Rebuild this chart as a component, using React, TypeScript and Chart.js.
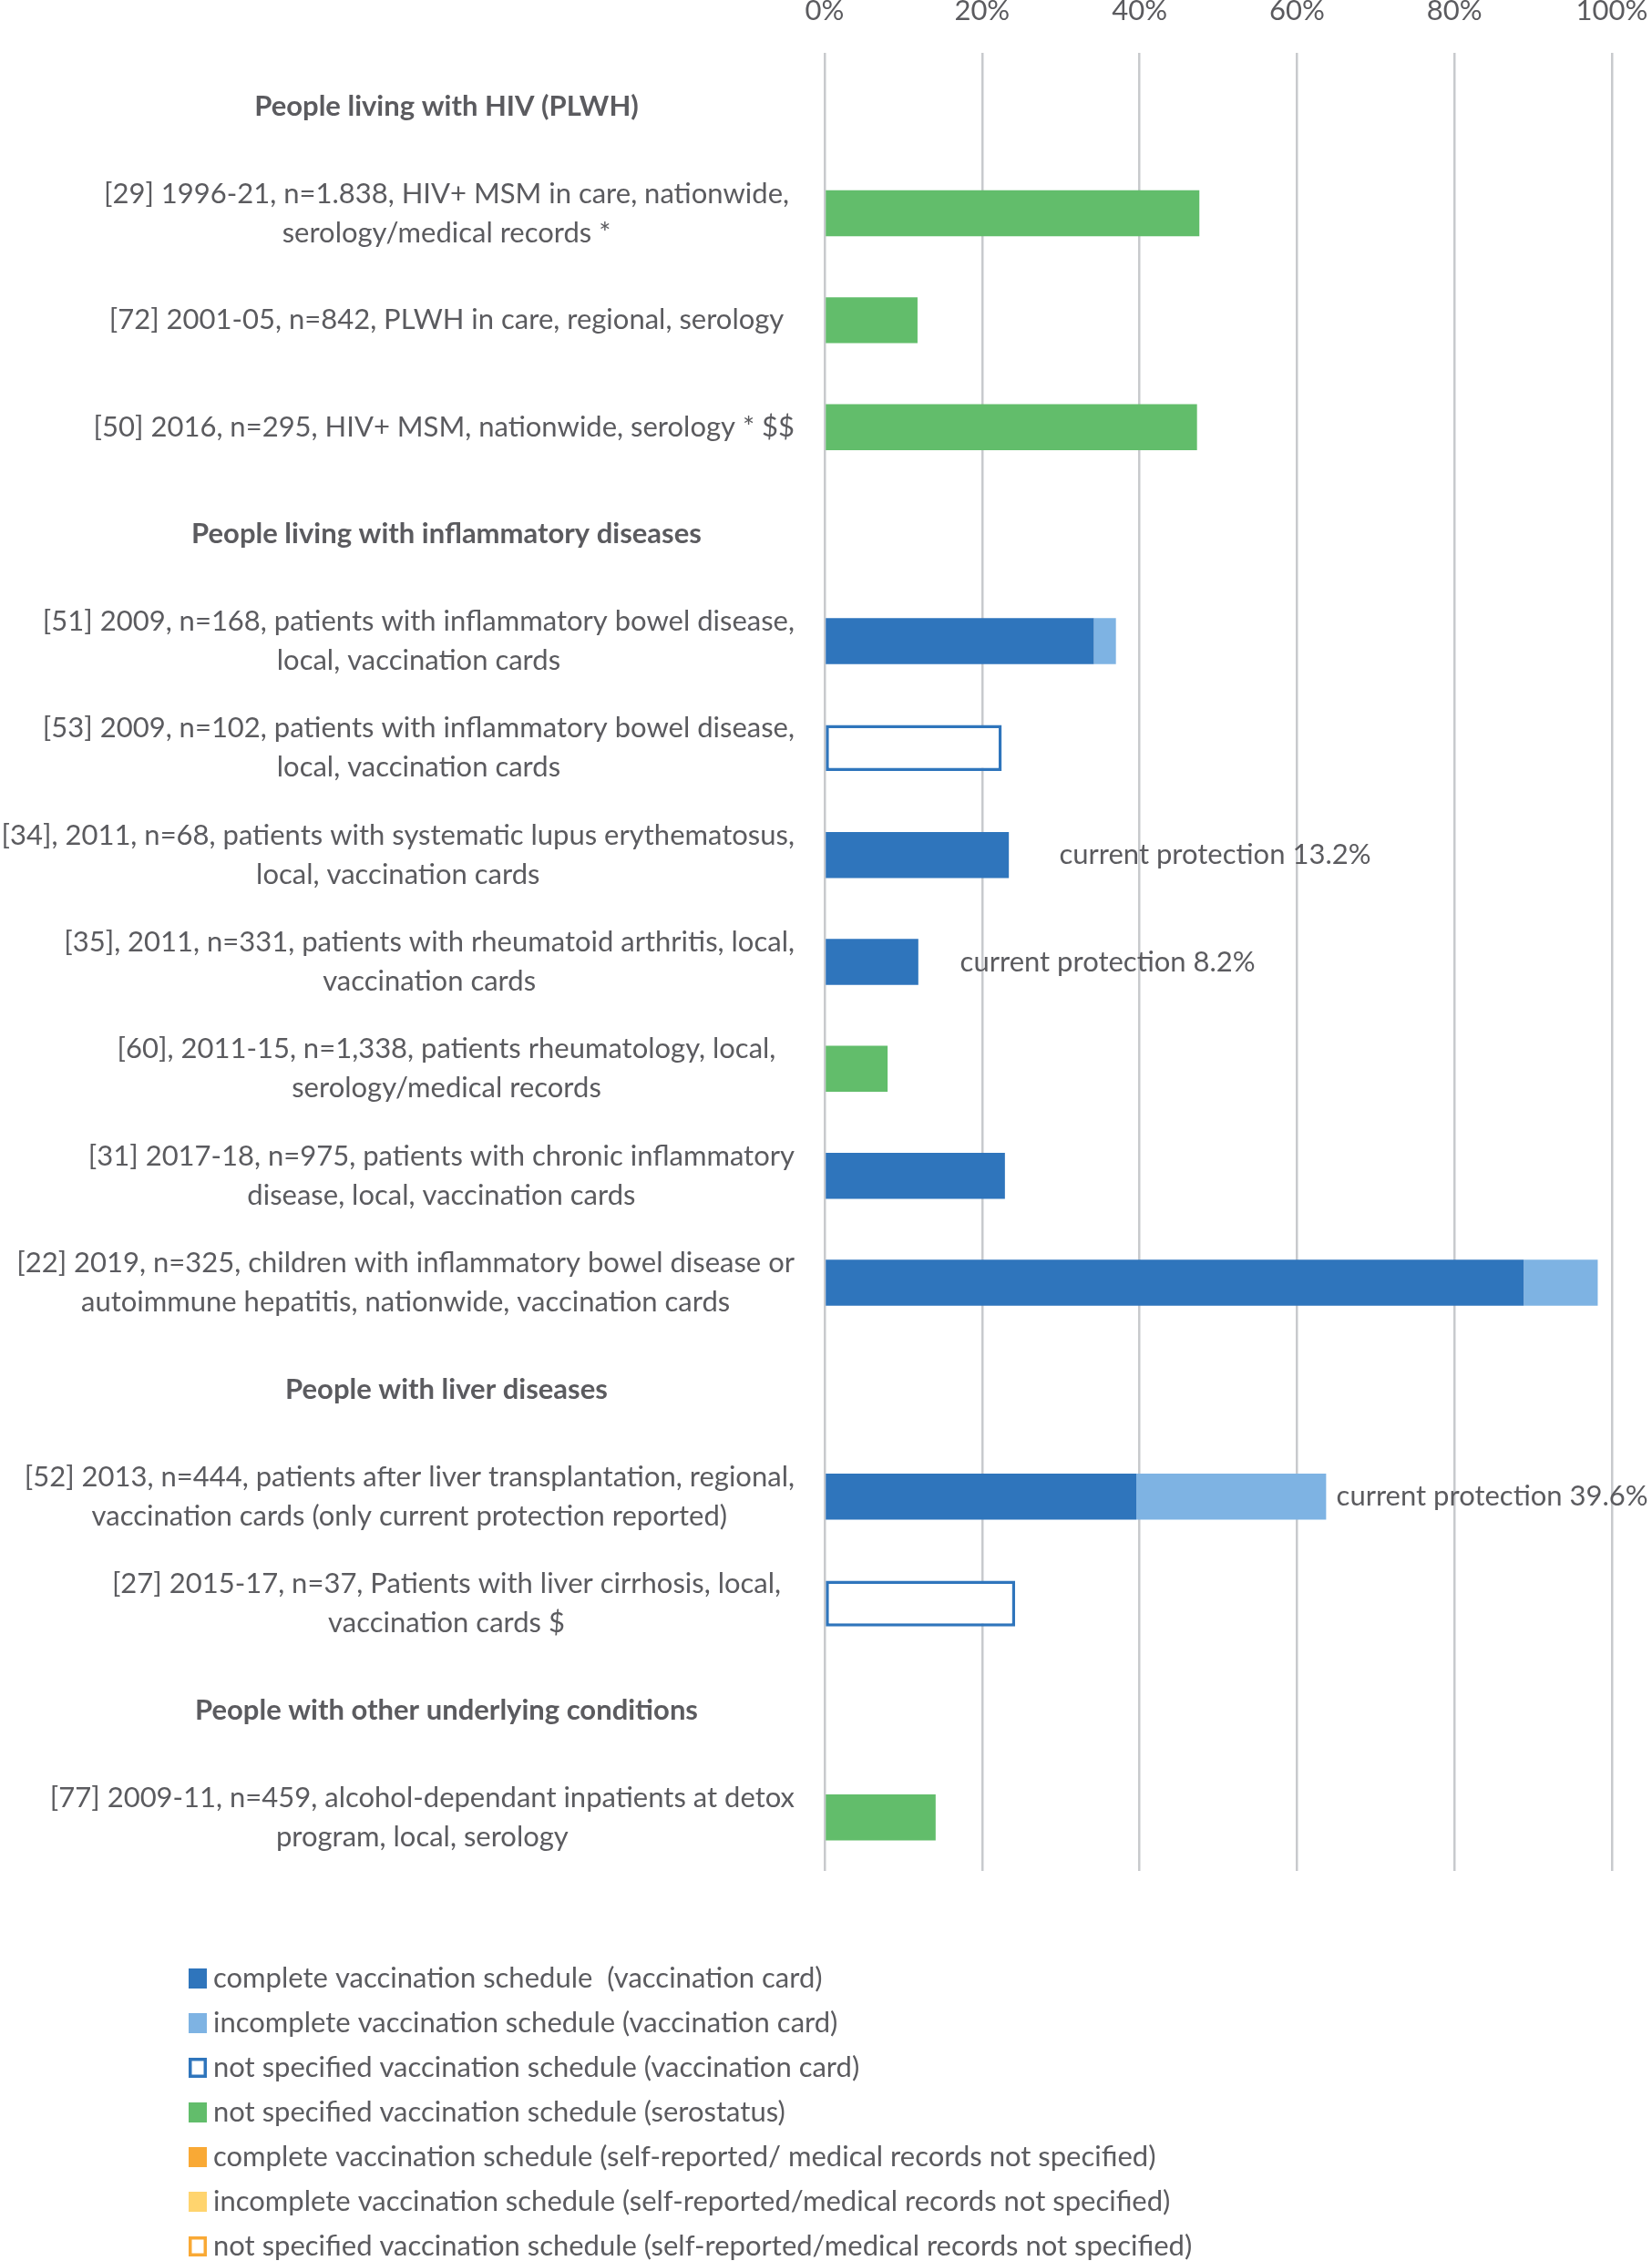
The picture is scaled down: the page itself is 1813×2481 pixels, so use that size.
import React, { useEffect, useRef } from "react";
import { Chart, registerables } from "chart.js";

Chart.register(...registerables);

// ---------- data ----------
const categories: string[][] = [
  ["People living with HIV (PLWH)"],
  ["[29] 1996-21, n=1.838, HIV+ MSM in care, nationwide,", "serology/medical records *"],
  ["[72] 2001-05, n=842, PLWH in care, regional, serology"],
  ["[50] 2016, n=295, HIV+ MSM, nationwide, serology * $$"],
  ["People living with inflammatory diseases"],
  ["[51] 2009, n=168, patients with inflammatory bowel disease,", "local, vaccination cards"],
  ["[53] 2009, n=102, patients with inflammatory bowel disease,", "local, vaccination cards"],
  ["[34], 2011, n=68, patients with systematic lupus erythematosus,", "local, vaccination cards"],
  ["[35], 2011, n=331, patients with rheumatoid arthritis, local,", "vaccination cards"],
  ["[60], 2011-15, n=1,338, patients rheumatology, local,", "serology/medical records"],
  ["[31] 2017-18, n=975, patients with chronic inflammatory", "disease, local, vaccination cards"],
  ["[22] 2019, n=325, children with inflammatory bowel disease or", "autoimmune hepatitis, nationwide, vaccination cards"],
  ["People with liver diseases"],
  ["[52] 2013, n=444, patients after liver transplantation, regional,", "vaccination cards (only current protection reported)"],
  ["[27] 2015-17, n=37, Patients with liver cirrhosis, local,", "vaccination cards $"],
  ["People with other underlying conditions"],
  ["[77] 2009-11, n=459, alcohol-dependant inpatients at detox", "program, local, serology"],
];

const headerRows = [0, 4, 12, 15];

const completeCard = [null, null, null, null, null, 34.2, null, 23.4, 11.9, null, 22.9, 88.8, null, 39.6, null, null, null];
const incompleteCard = [null, null, null, null, null, 2.8, null, null, null, null, null, 9.4, null, 24.1, null, null, null];
const notSpecifiedCard = [null, null, null, null, null, null, 22.5, null, null, null, null, null, null, null, 24.2, null, null];
const serostatus = [null, 47.6, 11.8, 47.3, null, null, null, null, null, 8.0, null, null, null, null, null, null, 14.1];
const completeSelf = [null, null, null, null, null, null, null, null, null, null, null, null, null, null, null, null, null];
const incompleteSelf = [null, null, null, null, null, null, null, null, null, null, null, null, null, null, null, null, null];
const notSpecifiedSelf = [null, null, null, null, null, null, null, null, null, null, null, null, null, null, null, null, null];

const seriesNames = [
  "complete vaccination schedule  (vaccination card)",
  "incomplete vaccination schedule (vaccination card)",
  "not specified vaccination schedule (vaccination card)",
  "not specified vaccination schedule (serostatus)",
  "complete vaccination schedule (self-reported/ medical records not specified)",
  "incomplete vaccination schedule (self-reported/medical records not specified)",
  "not specified vaccination schedule (self-reported/medical records not specified)",
];

const annotationRows = [7, 8, 13];
const annotationTexts = ["current protection 13.2%", "current protection 8.2%", "current protection 39.6%"];
const annotationX = [29.8, 17.2, 65.0];

const xTickValues = [0, 20, 40, 60, 80, 100];

// ---------- styles ----------
const W = 1813;
const H = 2481;
const FONT = "Lato, 'Open Sans', sans-serif";
const FS = 31;
const TEXT = "#5b5b5f";
const BLUE = "#2F75BC";
const LIGHT_BLUE = "#7EB3E3";
const GREEN = "#62BD6B";
const ORANGE = "#F9A935";
const LIGHT_ORANGE = "#FFD46E";
const GRID = "#c8cacd";

export default function App() {
  const ref = useRef<HTMLCanvasElement>(null);

  useEffect(() => {
    document.body.style.margin = "0";
    document.body.style.overflow = "hidden";
    const canvas = ref.current;
    if (!canvas) return;

    const textPlugin = {
      id: "customText",
      afterDraw(chart: any) {
        const ctx = chart.ctx as CanvasRenderingContext2D;
        const yScale = chart.scales.y;
        const xScale = chart.scales.x;
        ctx.save();
        ctx.fillStyle = TEXT;
        ctx.textBaseline = "middle";

        // category labels (left)
        const LABEL_CENTER = 490;
        const LABEL_RIGHT = 872;
        const LINE_H = 43;
        ctx.textAlign = "center";
        categories.forEach((lines, i) => {
          const bold = headerRows.includes(i);
          ctx.font = `${bold ? "bold " : ""}${FS}px ${FONT}`;
          const w = Math.max(...lines.map((l) => ctx.measureText(l).width));
          let cx = LABEL_CENTER;
          if (cx + w / 2 > LABEL_RIGHT) cx = LABEL_RIGHT - w / 2;
          if (cx - w / 2 < 0) cx = w / 2;
          const yc = yScale.getPixelForTick(i);
          lines.forEach((l, k) => {
            ctx.fillText(l, cx, yc + (k - (lines.length - 1) / 2) * LINE_H);
          });
        });

        // annotations
        ctx.textAlign = "left";
        ctx.font = `${FS}px ${FONT}`;
        annotationRows.forEach((row, i) => {
          ctx.fillText(annotationTexts[i], xScale.getPixelForValue(annotationX[i]), yScale.getPixelForTick(row));
        });

        // legend
        const LX = 207;
        const LY0 = 2171;
        const LSTEP = 49;
        const BW = 20;
        const BH = 22;
        ctx.font = `${FS}px ${FONT}`;
        chart.data.datasets.forEach((ds: any, i: number) => {
          const yc = LY0 + i * LSTEP;
          const outlined = ds.backgroundColor === "#ffffff";
          if (outlined) {
            ctx.fillStyle = "#ffffff";
            ctx.fillRect(LX, yc - BH / 2, BW, BH);
            ctx.strokeStyle = ds.borderColor;
            ctx.lineWidth = 3.5;
            ctx.strokeRect(LX + 1.75, yc - BH / 2 + 1.75, BW - 3.5, BH - 3.5);
          } else {
            ctx.fillStyle = ds.backgroundColor;
            ctx.fillRect(LX, yc - BH / 2, BW, BH);
          }
          ctx.fillStyle = TEXT;
          ctx.fillText(ds.label, LX + BW + 7, yc);
        });
        ctx.restore();
      },
    };

    const labels = categories.map((c) => c.join(" "));

    const chart = new Chart(canvas, {
      type: "bar",
      data: {
        labels,
        datasets: [
          { label: seriesNames[0], data: completeCard, backgroundColor: BLUE, borderWidth: 0 },
          { label: seriesNames[1], data: incompleteCard, backgroundColor: LIGHT_BLUE, borderWidth: 0 },
          { label: seriesNames[2], data: notSpecifiedCard, backgroundColor: "#ffffff", borderColor: BLUE, borderWidth: 3.5, borderSkipped: false },
          { label: seriesNames[3], data: serostatus, backgroundColor: GREEN, borderWidth: 0 },
          { label: seriesNames[4], data: completeSelf, backgroundColor: ORANGE, borderWidth: 0 },
          { label: seriesNames[5], data: incompleteSelf, backgroundColor: LIGHT_ORANGE, borderWidth: 0 },
          { label: seriesNames[6], data: notSpecifiedSelf, backgroundColor: "#ffffff", borderColor: ORANGE, borderWidth: 3.5, borderSkipped: false },
        ] as any,
      },
      options: {
        indexAxis: "y",
        responsive: false,
        animation: false,
        maintainAspectRatio: false,
        layout: { padding: { top: 0, right: 44, bottom: 428, left: 0 } },
        datasets: { bar: { categoryPercentage: 1, barPercentage: 0.43 } } as any,
        plugins: {
          legend: { display: false },
          tooltip: { enabled: false },
          title: { display: false },
        },
        scales: {
          x: {
            type: "linear",
            position: "top",
            stacked: true,
            min: 0,
            max: 100,
            afterBuildTicks: (scale: any) => {
              scale.ticks = xTickValues.map((v) => ({ value: v }));
            },
            afterFit: (scale: any) => {
              scale.height = 58;
              scale.paddingLeft = 0;
              scale.paddingRight = 0;
            },
            ticks: {
              padding: 27,
              color: TEXT,
              font: { family: FONT, size: FS },
              callback: (v: any) => `${v}%`,
            },
            grid: { color: GRID, lineWidth: 2.5, drawTicks: false },
            border: { display: false },
          },
          y: {
            type: "category",
            stacked: true,
            afterFit: (scale: any) => {
              scale.width = 905;
            },
            ticks: { display: false },
            grid: { display: false, drawTicks: false },
            border: { display: false },
          },
        },
      },
      plugins: [textPlugin],
    });

    return () => chart.destroy();
  }, []);

  return (
    <div style={{ width: W, height: H, background: "#ffffff" }}>
      <canvas ref={ref} width={W} height={H} style={{ display: "block", width: W, height: H }} />
    </div>
  );
}
